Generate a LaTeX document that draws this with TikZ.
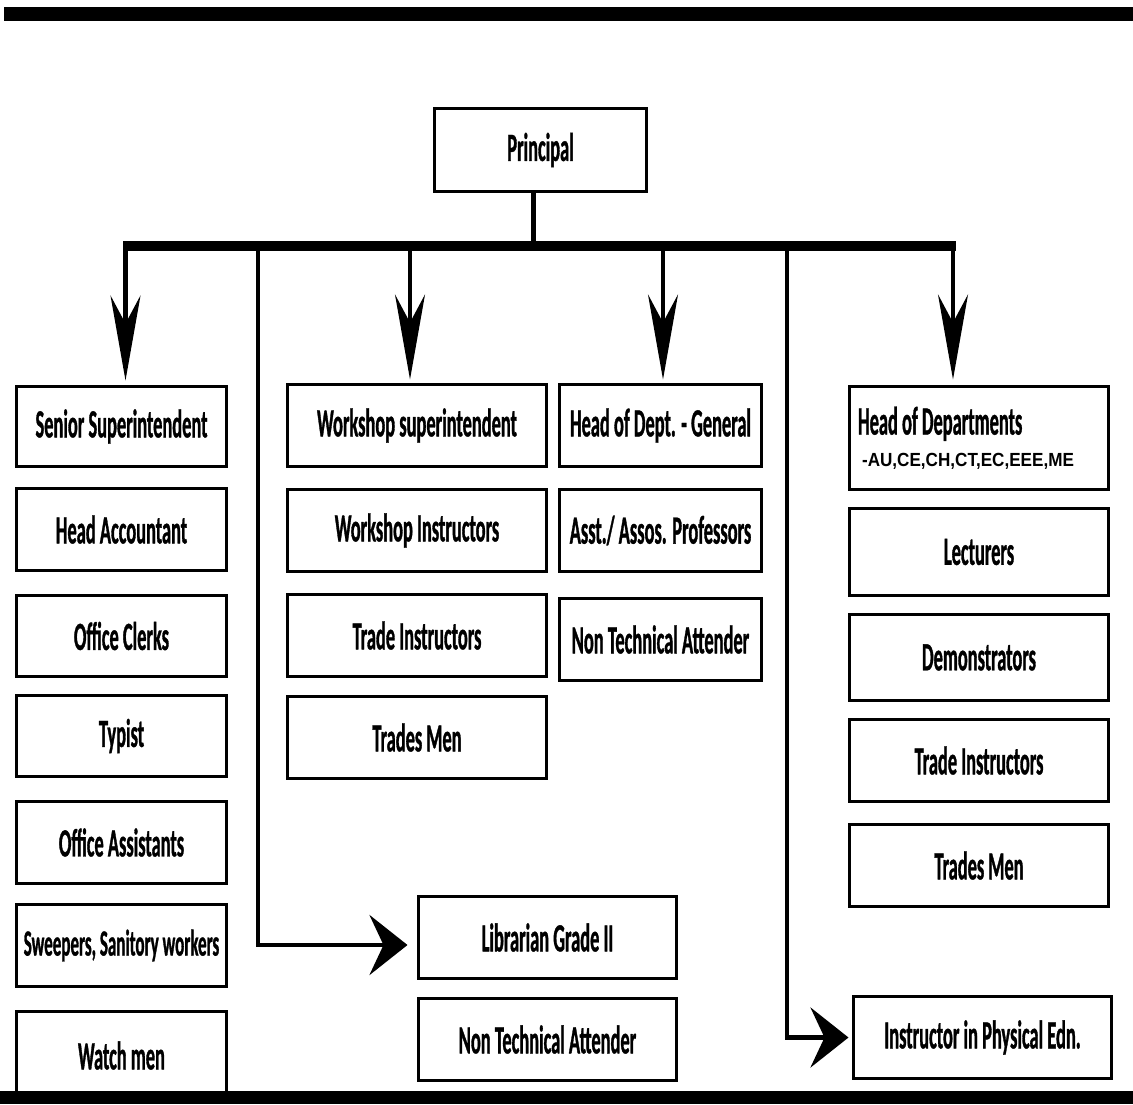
\documentclass[tikz,border=0pt]{standalone}
\usepackage{fontspec}
\setmainfont{Carlito}
\newfontfamily\boxfont{Carlito}[FakeStretch=0.46,FakeBold=0.8]
\newfontfamily\codefont{Liberation Sans}[FakeStretch=0.9]
\usetikzlibrary{arrows.meta}
\begin{document}
\begin{tikzpicture}[x=1pt,y=-1pt,
  box/.style={draw, line width=3pt, inner sep=0pt, outer sep=0pt, anchor=north west,
    font=\boxfont\bfseries\fontsize{40}{44}\selectfont},
  downarr/.style={line width=4.5pt, -{Stealth[length=85pt,width=30pt,inset=28pt]}},
  route/.style={line width=4.5pt, -{Stealth[length=38pt,width=60pt,inset=14pt]}},
  bar/.style={fill=black}]
\useasboundingbox (0,0) rectangle (1133,1104);

% Principal
\node[box, minimum width=212pt, minimum height=83pt] (pr) at (434.5,108.5) {Principal};

% Column 1
\node[box, minimum width=210pt, minimum height=80pt] (ss) at (16.5,386.5) {Senior Superintendent};
\node[box, minimum width=210pt, minimum height=82pt] (ha) at (16.5,488.5) {Head Accountant};
\node[box, minimum width=210pt, minimum height=81pt] (oc) at (16.5,595.5) {Office Clerks};
\node[box, minimum width=210pt, minimum height=81pt] (ty) at (16.5,695.5) {Typist};
\node[box, minimum width=210pt, minimum height=82pt] (oa) at (16.5,801.5) {Office Assistants};
\node[box, minimum width=210pt, minimum height=82pt, font=\boxfont\bfseries\fontsize{37}{40}\selectfont] (sw) at (16.5,904.5) {Sweepers, Sanitory workers};
\node[box, minimum width=210pt, minimum height=88pt] (wm) at (16.5,1011.5) {Watch men};

% Column 2
\node[box, minimum width=259pt, minimum height=82pt] (ws) at (287.5,384.5) {Workshop superintendent};
\node[box, minimum width=259pt, minimum height=82pt] (wi) at (287.5,489.5) {Workshop Instructors};
\node[box, minimum width=259pt, minimum height=82pt] (ti) at (287.5,594.5) {Trade Instructors};
\node[box, minimum width=259pt, minimum height=82pt] (tm) at (287.5,696.5) {Trades Men};

% Column 3
\node[box, minimum width=202pt, minimum height=82pt] (hg) at (559.5,384.5) {Head of Dept. - General};
\node[box, minimum width=202pt, minimum height=82pt] (ap) at (559.5,489.5) {Asst./ Assos. Professors};
\node[box, minimum width=202pt, minimum height=82pt] (nt) at (559.5,598.5) {Non Technical Attender};

% Column 4
\node[box, minimum width=259pt, minimum height=103pt, align=left] (hd) at (849.5,386.5)
  {Head of Departments\\[-12pt]{\codefont\fontsize{19}{20}\selectfont\hspace*{4pt}-AU,CE,CH,CT,EC,EEE,ME\hspace*{26pt}}};
\node[box, minimum width=259pt, minimum height=87pt] (lec) at (849.5,508.5) {Lecturers};
\node[box, minimum width=259pt, minimum height=86pt] (dem) at (849.5,614.5) {Demonstrators};
\node[box, minimum width=259pt, minimum height=82pt] (ti2) at (849.5,719.5) {Trade Instructors};
\node[box, minimum width=259pt, minimum height=82pt] (tm2) at (849.5,824.5) {Trades Men};

% Bottom boxes
\node[box, minimum width=258pt, minimum height=82pt] (lib) at (418.5,896.5) {Librarian Grade II};
\node[box, minimum width=258pt, minimum height=82pt] (nt2) at (418.5,998.5) {Non Technical Attender};
\node[box, minimum width=258pt, minimum height=82pt] (ins) at (853.5,996.5) {Instructor in Physical Edn.};

% Bus
\coordinate (busL) at (123,246);
\coordinate (busR) at (956,246);
\coordinate (pj) at (533,246);
\draw[line width=5pt] ([xshift=-7.5pt]pr.south) -- (pj);
\draw[line width=10pt] (busL) -- (busR);

% Down arrows
\coordinate (a1) at (125.5,246);
\coordinate (a2) at (410,246);
\coordinate (a3) at (663,246);
\coordinate (a4) at (953,246);
\draw[downarr, shorten >=6pt] (a1) -- (a1 |- ss.north);
\draw[downarr, shorten >=5pt] (a2) -- (a2 |- ws.north);
\draw[downarr, shorten >=5pt] (a3) -- (a3 |- hg.north);
\draw[downarr, shorten >=7pt] (a4) -- (a4 |- hd.north);

% Side routes
\coordinate (r1) at (258,246);
\coordinate (r2) at (787,246);
\draw[route, shorten >=11pt] (r1) |- ([yshift=-7.5pt]lib.west);
\draw[route, shorten >=5pt] (r2) |- (ins.west);

% Bars
\fill[bar] (4,7) rectangle (1133,21);
\fill[bar] (0,1091) rectangle (1133,1104);
\end{tikzpicture}
\end{document}
